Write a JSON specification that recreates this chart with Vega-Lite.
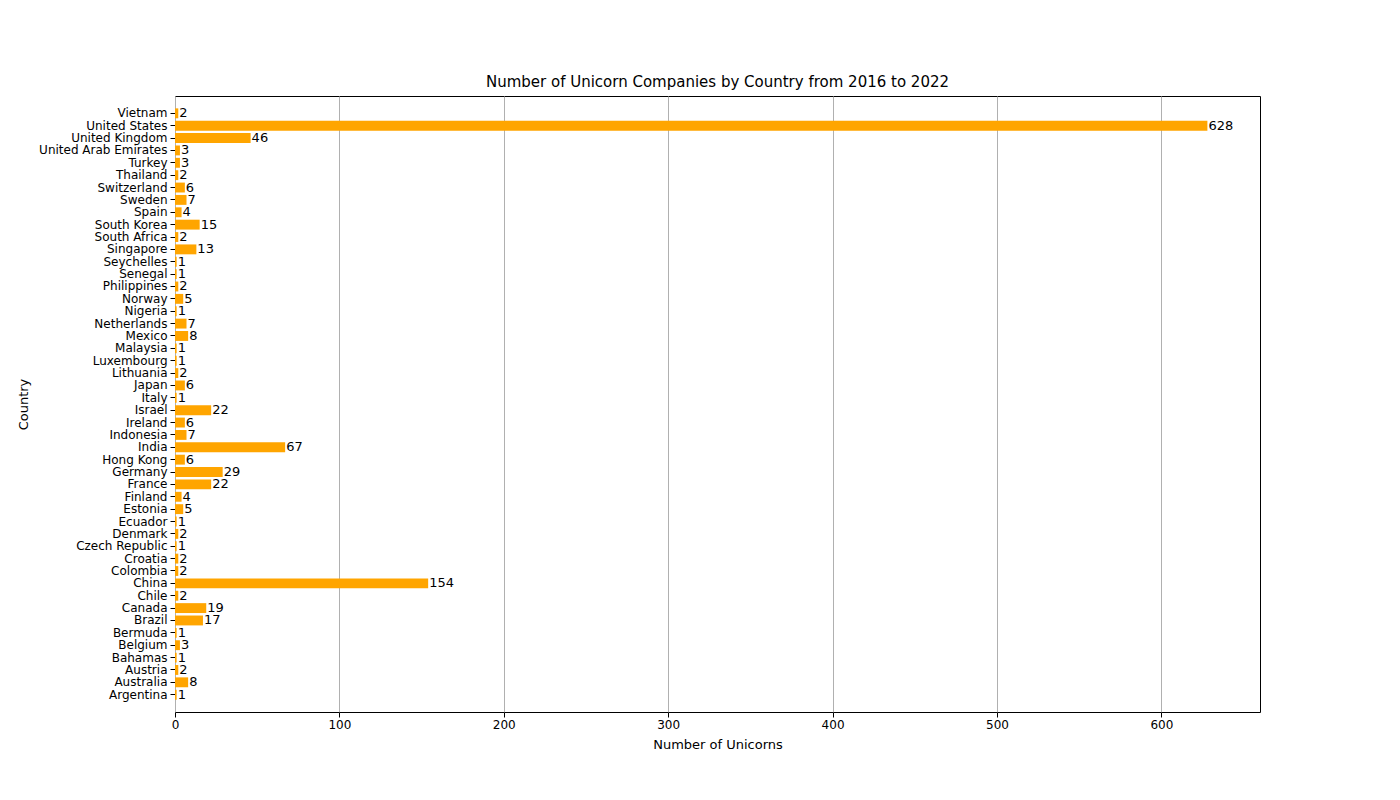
{
"$schema":"https://vega.github.io/schema/vega-lite/v6.json",
"width":1085,"height":616,
"autosize":{"type":"none"},
"padding":{"left":175,"top":96,"right":140,"bottom":88},
"background":"white",
"title":{"text":"Number of Unicorn Companies by Country from 2016 to 2022","font":"DejaVu Sans","fontSize":15,"fontWeight":"normal","offset":6},
"config":{"view":{"stroke":"black","strokeWidth":1},"font":"DejaVu Sans"},
"data":{"values":[
{"c":"Argentina","n":1},{"c":"Australia","n":8},{"c":"Austria","n":2},{"c":"Bahamas","n":1},{"c":"Belgium","n":3},{"c":"Bermuda","n":1},{"c":"Brazil","n":17},{"c":"Canada","n":19},{"c":"Chile","n":2},{"c":"China","n":154},{"c":"Colombia","n":2},{"c":"Croatia","n":2},{"c":"Czech Republic","n":1},{"c":"Denmark","n":2},{"c":"Ecuador","n":1},{"c":"Estonia","n":5},{"c":"Finland","n":4},{"c":"France","n":22},{"c":"Germany","n":29},{"c":"Hong Kong","n":6},{"c":"India","n":67},{"c":"Indonesia","n":7},{"c":"Ireland","n":6},{"c":"Israel","n":22},{"c":"Italy","n":1},{"c":"Japan","n":6},{"c":"Lithuania","n":2},{"c":"Luxembourg","n":1},{"c":"Malaysia","n":1},{"c":"Mexico","n":8},{"c":"Netherlands","n":7},{"c":"Nigeria","n":1},{"c":"Norway","n":5},{"c":"Philippines","n":2},{"c":"Senegal","n":1},{"c":"Seychelles","n":1},{"c":"Singapore","n":13},{"c":"South Africa","n":2},{"c":"South Korea","n":15},{"c":"Spain","n":4},{"c":"Sweden","n":7},{"c":"Switzerland","n":6},{"c":"Thailand","n":2},{"c":"Turkey","n":3},{"c":"United Arab Emirates","n":3},{"c":"United Kingdom","n":46},{"c":"United States","n":628},{"c":"Vietnam","n":2}
]},
"encoding":{
"y":{"field":"c","type":"nominal","sort":"descending","scale":{"paddingInner":0.2,"paddingOuter":2.4},
 "axis":{"title":"Country","titleFontSize":13,"titleFontWeight":"normal","labelFontSize":12,"labelColor":"black","titleColor":"black","domain":false,"tickColor":"black","labelPadding":3,"titlePadding":8}},
"x":{"field":"n","type":"quantitative","scale":{"domain":[0,660],"nice":false},
 "axis":{"title":"Number of Unicorns","values":[0,100,200,300,400,500,600],"titleFontSize":13,"titleFontWeight":"normal","labelFontSize":12,"labelColor":"black","titleColor":"black","domain":false,"tickColor":"black","gridColor":"#b0b0b0","gridOpacity":1,"labelFlush":false,"titlePadding":8}}
},
"layer":[
{"mark":{"type":"bar","color":"orange"}},
{"mark":{"type":"text","align":"left","dx":1,"fontSize":13,"color":"black"},"encoding":{"text":{"field":"n"}}}
]
}
